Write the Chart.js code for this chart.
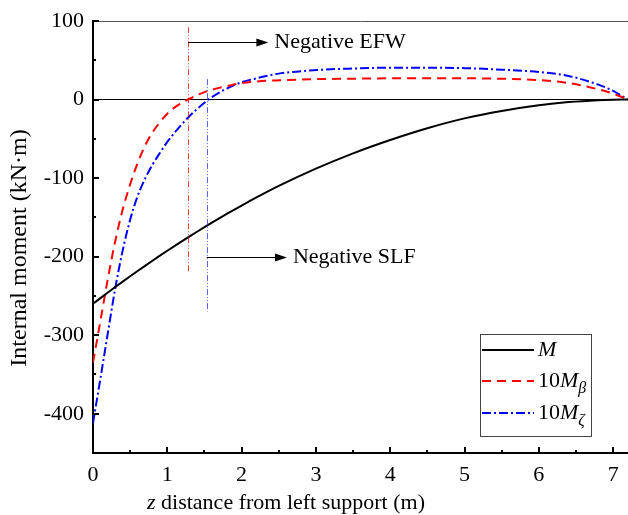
<!DOCTYPE html>
<html>
<head>
<meta charset="utf-8">
<script src="https://cdn.jsdelivr.net/npm/chart.js@4.4.0/dist/chart.umd.min.js"></script>
<style>
  body { margin: 0; background: #fff; }
  #wrap { width: 628px; height: 515px; }
</style>
</head>
<body>
<div id="wrap"><canvas id="myChart" width="628" height="515"></canvas></div>
<script>
// z positions along the beam (m)
const zPos = [0, 0.1, 0.2, 0.3, 0.4, 0.5, 0.6, 0.7, 0.8, 0.9, 1.0, 1.1, 1.2, 1.3, 1.4, 1.5, 1.6, 1.8, 2.0, 2.2, 2.5, 3.0, 3.5, 4.0, 4.5, 5.0, 5.5, 6.0, 6.4, 6.8, 7.0, 7.2];
// M
const momentM = [-260, -252.8, -245.7, -238.7, -231.8, -225, -218.3, -211.7, -205.2, -198.8, -192.5, -186.3, -180.2, -174.2, -168.3, -162.5, -156.8, -145.7, -135, -124.7, -110, -88, -68.5, -51.5, -36.5, -24, -14.5, -7.3, -3.2, -0.8, -0.2, 0];
// 10 M_beta
const momentBeta = [-335, -282, -228, -180, -140, -108, -81, -59, -42, -29, -18, -10, -4, 1, 5.5, 9.5, 12.5, 17, 21, 23, 24.5, 26, 26.5, 27, 27, 27, 26.5, 24.7, 21, 13, 7.5, 0];
// 10 M_zeta
const momentZeta = [-412, -355, -297, -240, -192, -153, -123, -101, -83, -68, -54, -42, -31, -21, -12, -4, 3, 14, 22, 27, 33, 37.5, 39.5, 40.5, 40.5, 40, 38, 35, 30, 19, 11, 0];

const xTickLabels = [0, 1, 2, 3, 4, 5, 6, 7];
const yTickLabels = [-400, -300, -200, -100, 0, 100];

const serif = '"Liberation Serif", serif';

function pts(ys) {
  return zPos.map((z, i) => ({ x: z, y: ys[i] }));
}

// inward ticks, tick labels, frame, annotations, legend and axis titles
const extras = {
  id: 'extras',
  afterDatasetsDraw(chart) {
    const ctx = chart.ctx;
    const xs = chart.scales.x, ys = chart.scales.y;
    const a = chart.chartArea;
    ctx.save();

    // top frame line
    ctx.strokeStyle = '#555';
    ctx.lineWidth = 1;
    ctx.beginPath();
    ctx.moveTo(a.left, a.top + 0.5);
    ctx.lineTo(a.right, a.top + 0.5);
    ctx.stroke();

    // ticks pointing inward
    ctx.strokeStyle = '#000';
    ctx.lineWidth = 2;
    for (let v = 0; v <= 7; v += 0.5) {
      const px = Math.round(xs.getPixelForValue(v));
      const len = Number.isInteger(v) ? 6 : 3;
      ctx.beginPath();
      ctx.moveTo(px, a.bottom);
      ctx.lineTo(px, a.bottom - len);
      ctx.stroke();
    }
    for (let v = -400; v <= 100; v += 50) {
      const py = Math.round(ys.getPixelForValue(v));
      const len = v % 100 === 0 ? 6 : 3;
      ctx.beginPath();
      ctx.moveTo(a.left, py);
      ctx.lineTo(a.left + len, py);
      ctx.stroke();
    }

    // tick labels
    ctx.fillStyle = '#000';
    ctx.font = '22px ' + serif;
    ctx.textBaseline = 'middle';
    ctx.textAlign = 'center';
    xTickLabels.forEach(v => ctx.fillText(String(v), xs.getPixelForValue(v), 475));
    ctx.textAlign = 'right';
    yTickLabels.forEach(v => ctx.fillText(String(v), 84, ys.getPixelForValue(v)));

    // marker lines
    function vline(x, y1, y2, color) {
      const px = Math.round(xs.getPixelForValue(x)) + 0.5;
      ctx.strokeStyle = color;
      ctx.lineWidth = 1;
      ctx.setLineDash([6, 2, 1, 2, 1, 2]);
      ctx.beginPath();
      ctx.moveTo(px, ys.getPixelForValue(y1));
      ctx.lineTo(px, ys.getPixelForValue(y2));
      ctx.stroke();
      ctx.setLineDash([]);
    }
    vline(1.28, 92, -220, 'rgba(255,0,0,0.75)');
    vline(1.53, 26, -270, 'rgba(40,40,255,0.75)');

    function arrow(x1, x2, y, label) {
      const p1 = xs.getPixelForValue(x1), p2 = xs.getPixelForValue(x2);
      const py = Math.round(ys.getPixelForValue(y)) + 0.5;
      ctx.strokeStyle = '#000';
      ctx.fillStyle = '#000';
      ctx.lineWidth = 1;
      ctx.beginPath();
      ctx.moveTo(p1, py);
      ctx.lineTo(p2 - 10, py);
      ctx.stroke();
      ctx.beginPath();
      ctx.moveTo(p2, py);
      ctx.lineTo(p2 - 12, py - 4);
      ctx.lineTo(p2 - 12, py + 4);
      ctx.closePath();
      ctx.fill();
      ctx.font = '22px ' + serif;
      ctx.textAlign = 'left';
      ctx.textBaseline = 'middle';
      ctx.fillText(label, p2 + 6, py);
    }
    arrow(1.28, 2.36, 73, 'Negative EFW');
    arrow(1.53, 2.61, -200, 'Negative SLF');

    // legend
    ctx.strokeStyle = '#444';
    ctx.lineWidth = 1;
    ctx.strokeRect(480.5, 334.5, 111, 102);
    const rows = [
      { y: 350, color: '#000', dash: [], sub: null, pre: '' },
      { y: 381, color: '#f00', dash: [9, 6], sub: 'β', pre: '10' },
      { y: 413, color: '#00f', dash: [9, 3, 2, 3], sub: 'ζ', pre: '10' }
    ];
    rows.forEach(r => {
      ctx.strokeStyle = r.color;
      ctx.lineWidth = 2;
      ctx.setLineDash(r.dash);
      ctx.beginPath();
      ctx.moveTo(482, r.y);
      ctx.lineTo(534, r.y);
      ctx.stroke();
      ctx.setLineDash([]);
      ctx.fillStyle = '#000';
      ctx.textBaseline = 'middle';
      ctx.textAlign = 'left';
      let tx = 538;
      ctx.font = '22px ' + serif;
      if (r.pre) { ctx.fillText(r.pre, tx, r.y); tx += ctx.measureText(r.pre).width; }
      ctx.font = 'italic 22px ' + serif;
      ctx.fillText('M', tx, r.y);
      tx += ctx.measureText('M').width;
      if (r.sub) {
        ctx.font = 'italic 16px ' + serif;
        ctx.fillText(r.sub, tx, r.y + 8);
      }
    });

    // axis titles
    ctx.fillStyle = '#000';
    ctx.textBaseline = 'middle';
    ctx.font = 'italic 22px ' + serif;
    const t1 = 'z', t2 = ' distance from left support (m)';
    const w1 = ctx.measureText(t1).width;
    ctx.font = '22px ' + serif;
    const w2 = ctx.measureText(t2).width;
    let sx = 286 - (w1 + w2) / 2;
    ctx.textAlign = 'left';
    ctx.font = 'italic 22px ' + serif;
    ctx.fillText(t1, sx, 503);
    ctx.font = '22px ' + serif;
    ctx.fillText(t2, sx + w1, 503);

    ctx.translate(20, 248);
    ctx.rotate(-Math.PI / 2);
    ctx.textAlign = 'center';
    ctx.font = '24px ' + serif;
    ctx.fillText('Internal moment (kN·m)', 0, 0);
    ctx.restore();
  }
};

const ctx = document.getElementById('myChart');
const myChart = new Chart(ctx, {
  type: 'line',
  data: {
    datasets: [
      { label: 'M', data: pts(momentM), borderColor: '#000', borderWidth: 2 },
      { label: '10Mβ', data: pts(momentBeta), borderColor: '#f00', borderWidth: 2, borderDash: [9, 6] },
      { label: '10Mζ', data: pts(momentZeta), borderColor: '#00f', borderWidth: 2, borderDash: [9, 3, 2, 3] }
    ]
  },
  options: {
    responsive: false,
    animation: false,
    layout: { padding: { top: 21, right: 0, left: 0, bottom: 0 } },
    elements: {
      point: { radius: 0 },
      line: { cubicInterpolationMode: 'monotone', fill: false }
    },
    plugins: { legend: { display: false }, tooltip: { enabled: false } },
    scales: {
      x: {
        type: 'linear',
        min: 0,
        max: 7.2,
        afterBuildTicks(s) { s.ticks = xTickLabels.map(v => ({ value: v })); },
        afterFit(s) { s.height = 62; s.paddingRight = 0; s.paddingLeft = 0; },
        grid: { display: false },
        border: { display: true, color: '#000', width: 2 },
        ticks: { display: false }
      },
      y: {
        min: -450,
        max: 100,
        afterFit(s) { s.width = 93; s.paddingTop = 0; s.paddingBottom = 0; },
        grid: {
          drawTicks: false,
          lineWidth: 1,
          color: c => (c.tick && c.tick.value === 0) ? '#000' : 'rgba(0,0,0,0)'
        },
        border: { display: true, color: '#000', width: 2 },
        ticks: { display: false, stepSize: 50 }
      }
    }
  },
  plugins: [extras]
});
</script>
</body>
</html>
